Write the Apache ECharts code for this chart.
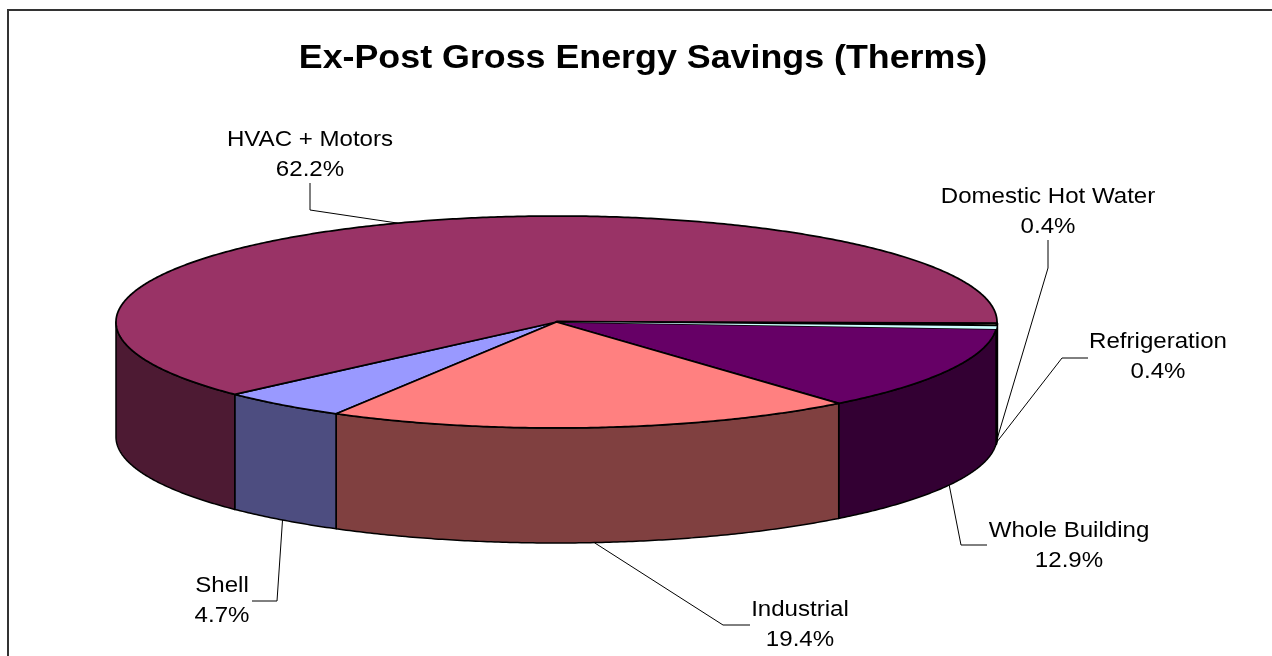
<!DOCTYPE html>
<html>
<head>
<meta charset="utf-8">
<style>html,body{margin:0;padding:0;background:#fff}#c{width:1272px;height:656px}</style>
<script src="https://cdn.jsdelivr.net/npm/echarts@6/dist/echarts.min.js"></script>
</head>
<body>
<div id="c"></div>
<script>
const categories = ['Shell', 'HVAC + Motors', 'Domestic Hot Water', 'Refrigeration', 'Whole Building', 'Industrial'];
const shares = [4.7, 62.2, 0.4, 0.4, 12.9, 19.4];
const topColors = ['#9999FF', '#993366', '#FFFFCC', '#CCFFFF', '#660066', '#FF8080'];
const sideColors = ['#4D4D80', '#4D1A33', '#808066', '#668080', '#330033', '#804040'];
const titleText = 'Ex-Post Gross Energy Savings (Therms)';

// layout of the tilted pie
const CX = 556.5, CY = 322, RX = 440.5, RY = 106, DEPTH = 115, START = 210;
const FONT = '"Liberation Sans", Arial, sans-serif';
// leader elbows and label centres (layout only)
const labelBox = [
  {x: 222, y: 601, elbow: [[252, 601], [277, 601]], side: true},
  {x: 310, y: 155, elbow: [[310, 183], [310, 210]], side: false},
  {x: 1048, y: 212, elbow: [[1048, 240], [1048, 268]], side: true},
  {x: 1158, y: 357, elbow: [[1088, 358], [1062, 358]], side: true},
  {x: 1069, y: 546, elbow: [[987, 545], [961, 545]], side: true},
  {x: 800, y: 625, elbow: [[750, 625], [723, 625]], side: true}
];
// the two hairline slices carry different outlines so the cyan one stays visible
const topStroke = [1.75, 1.75, 2.5, 0, 1.75, 1.75];
const topOrder = [40, 40, 40, 42, 40, 40];
const sideStroke = [1.5, 1.5, 2.5, 2.5, 1.5, 1.5];

function pt(t, dy) {
  const r = t * Math.PI / 180;
  return [CX + RX * Math.sin(r), CY - RY * Math.cos(r) + (dy || 0)];
}
function arc(a, b, dy) {
  const out = [], n = Math.max(2, Math.ceil((b - a) / 0.5));
  for (let i = 0; i <= n; i++) out.push(pt(a + (b - a) * i / n, dy));
  return out;
}
const total = shares.reduce((s, v) => s + v, 0);

function renderItem(params, api) {
  const i = params.dataIndex;
  let a = START;
  for (let k = 0; k < i; k++) a += shares[k] / total * 360;
  const b = a + api.value(0) / total * 360;
  const children = [];
  // front-facing wall: only the parts of the rim between 90 and 270 degrees (mod 360)
  [[90, 270], [450, 630]].forEach(([lo, hi]) => {
    const s = Math.max(a, lo), e = Math.min(b, hi);
    if (e > s) {
      children.push({
        type: 'polygon', z2: 10 + i,
        shape: {points: arc(s, e, 0).concat(arc(s, e, DEPTH).reverse())},
        style: {fill: sideColors[i], stroke: '#000', lineWidth: sideStroke[i], lineJoin: 'round'}
      });
    }
  });
  // top face
  children.push({
    type: 'polygon', z2: topOrder[i],
    shape: {points: [[CX, CY]].concat(arc(a, b, 0))},
    style: {fill: topColors[i], stroke: topStroke[i] ? '#000' : null, lineWidth: topStroke[i], lineJoin: 'round'}
  });
  // leader line, ending at the slice's mid angle on the rim
  const box = labelBox[i];
  const end = pt((a + b) / 2, box.side ? DEPTH : 0);
  children.push({
    type: 'polyline', z2: 50,
    shape: {points: box.elbow.concat([end])},
    style: {fill: null, stroke: '#000', lineWidth: 1}
  });
  children.push({
    type: 'text', z2: 60, x: box.x, y: box.y, scaleX: 1.07,
    style: {
      text: categories[i] + '\n' + api.value(0).toFixed(1) + '%',
      fill: '#000', font: '22.5px ' + FONT,
      lineHeight: 30, align: 'center', verticalAlign: 'middle'
    }
  });
  return {type: 'group', children};
}

const chart = echarts.init(document.getElementById('c'), null, {renderer: 'canvas'});
chart.setOption({
  animation: false,
  backgroundColor: '#fff',
  graphic: [{
    type: 'rect', z: -1, silent: true,
    shape: {x: 8, y: 10, width: 1400, height: 800},
    style: {fill: null, stroke: '#333', lineWidth: 2}
  }, {
    type: 'text', silent: true, x: 643, y: 59, scaleX: 1.085,
    style: {
      text: titleText, fill: '#000', font: 'bold 33px ' + FONT,
      align: 'center', verticalAlign: 'middle'
    }
  }],
  series: [{
    type: 'custom', coordinateSystem: 'none', silent: true,
    renderItem,
    data: shares.map(v => [v])
  }]
});
</script>
</body>
</html>
